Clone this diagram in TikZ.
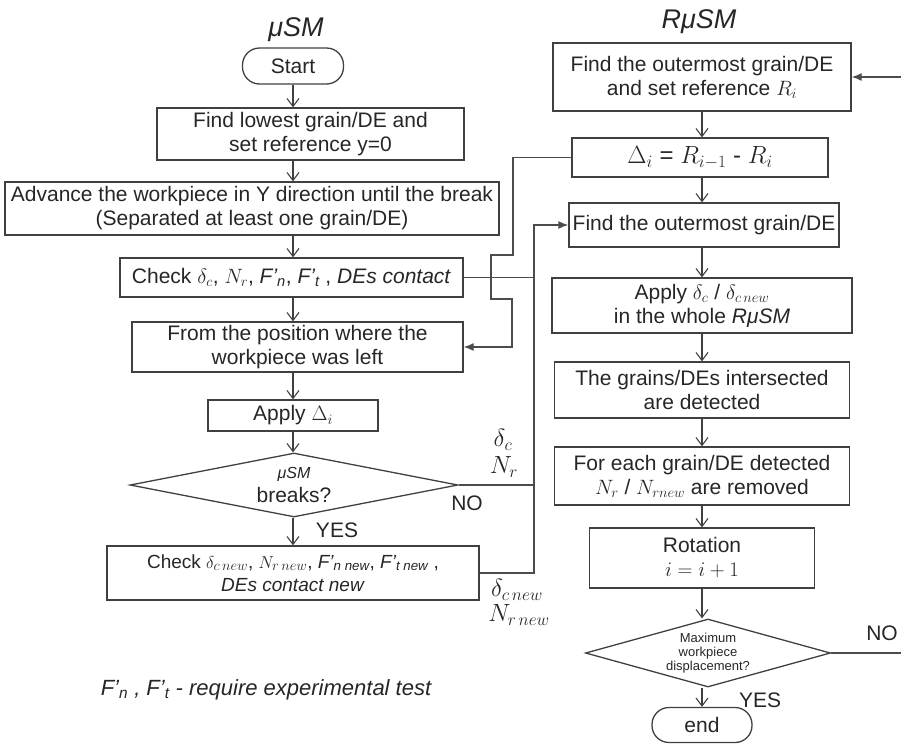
\documentclass[tikz,border=0pt]{standalone}
\usepackage{fontspec}
\setmainfont{Liberation Sans}
\usetikzlibrary{shapes,arrows,arrows.meta}

\begin{document}
\begin{tikzpicture}[x=1pt,y=-1pt,>={Latex[length=10pt,width=8pt]},
  font=\fontsize{21}{24}\selectfont, text=black!85,
  box/.style={draw=black!75, line width=1.3pt, rectangle, align=center, inner sep=0pt},
  term/.style={draw=black!75, line width=1.3pt, rectangle, rounded corners=17pt, inner sep=0pt},
  dec/.style={draw=black!75, line width=1.3pt, diamond, align=center, inner sep=0pt},
  dn/.style={-{Straight Barb[length=8pt,width=12pt]}, draw=black!75, line width=1.1pt},
  fb/.style={->, draw=black!70, line width=1.3pt},
  wire/.style={draw=black!70, line width=1.3pt},
  ttl/.style={font=\fontsize{27}{30}\selectfont\itshape},
  mlbl/.style={font=\fontsize{24}{26}\selectfont}]
	\useasboundingbox (0,0) rectangle (901,750);
	% left column
	\node [ttl] (t0) at (296,30) {μSM};
	\node [term, minimum width=101pt, minimum height=36pt] (n0) at (293,66) {Start};
	\node [box, minimum width=307pt, minimum height=52pt] (n1) at (310.5,134) {Find lowest grain/DE and\\set reference y=0};
	\node [box, minimum width=494pt, minimum height=53pt] (n2) at (252,208.5) {Advance the workpiece in Y direction until the break\\(Separated at least one grain/DE)};
	\node [box, minimum width=343pt, minimum height=39pt] (n3) at (291.5,277.5) {Check $\delta_c$, $N_r$, \textit{F'\textsubscript{n}}, \textit{F'\textsubscript{t}} , \textit{DEs contact}};
	\node [box, minimum width=331pt, minimum height=50pt] (n4) at (297.5,347) {From the position where the\\workpiece was left};
	\node [box, minimum width=170pt, minimum height=31pt] (n5) at (293,415.5) {Apply $\Delta_i$};
	\node [dec, shape aspect=5.1, minimum width=328pt, minimum height=64pt] (n6) at (294,485) {{\fontsize{16}{18}\selectfont\itshape μSM}\\breaks?};
	\node [box, minimum width=372pt, minimum height=54pt, font=\fontsize{19}{23}\selectfont] (n7) at (293,573) {Check $\delta_{c\,new}$, $N_{r\,new}$, \textit{F'\textsubscript{n new}}, \textit{F'\textsubscript{t new}} ,\\\textit{DEs contact new}};
	\node [font=\fontsize{22}{26}\selectfont\itshape] (note) at (266,690) {F'\textsubscript{n} , F'\textsubscript{t} - require experimental test};
	\foreach \a/\b in {n0/n1,n1/n2,n2/n3,n3/n4,n4/n5,n5/n6,n6/n7}
		\draw [dn] (\a.south -| n0) -- (\b.north -| n0);
	\node (l0) at (337,530) {YES};
	% right column
	\node [ttl] (t1) at (699,22) {RμSM};
	\node [box, minimum width=298pt, minimum height=68pt] (r1) at (702,77) {Find the outermost grain/DE\\and set reference $R_i$};
	\node [box, minimum width=256pt, minimum height=39pt, font=\fontsize{24}{26}\selectfont] (r2) at (700,157.5) {$\Delta_i$ = $R_{i-1}$ - $R_i$};
	\node [box, minimum width=270pt, minimum height=44pt] (r3) at (704,225) {Find the outermost grain/DE};
	\node [box, minimum width=300pt, minimum height=55pt] (r4) at (702,305.5) {Apply $\delta_c$ / $\delta_{c\,new}$\\in the whole \textit{RμSM}};
	\node [box, minimum width=295pt, minimum height=56pt] (r5) at (702,390) {The grains/DEs intersected\\are detected};
	\node [box, minimum width=295pt, minimum height=58pt] (r6) at (702,476) {For each grain/DE detected\\$N_r$ / $N_{rnew}$ are removed};
	\node [box, minimum width=225pt, minimum height=60pt] (r7) at (702,558) {Rotation\\$i = i + 1$};
	\node [dec, shape aspect=3.6, minimum width=245pt, minimum height=68pt, font=\fontsize{13}{14}\selectfont] (r8) at (708,653) {Maximum\\workpiece\\displacement?};
	\node [term, minimum width=100pt, minimum height=35pt] (r9) at (702,725) {end};
	\foreach \a/\b in {r1/r2,r2/r3,r3/r4,r4/r5,r5/r6,r6/r7,r7/r8,r8/r9}
		\draw [dn] (\a.south -| r1) -- (\b.north -| r1);
	\node (l3) at (882,633) {NO};
	\node (l4) at (760,700) {YES};
	% feedback lines
	\coordinate (j0) at (534,277.5);
	\draw [fb] (r2.west) -| (513,255) -| (491,299) -| (512,347) -- (n4.east);
	\draw [fb] (n3.east) -- (j0) |- (r3.west);
	\draw [wire] (n6.east) -- (n6.east -| j0);
	\draw [wire] (n7.east) -| (j0);
	\draw [fb] (r8.east) -- (920,653) |- (r1.east);
	\node (l1) at (467,503) {NO};
	\node [mlbl] (l2) at (503,440) {$\delta_c$};
	\node [mlbl] (l5) at (504,467) {$N_r$};
	\node [mlbl] (l6) at (517,590) {$\delta_{c\,new}$};
	\node [mlbl] (l7) at (519,615) {$N_{r\,new}$};
\end{tikzpicture}
\end{document}
